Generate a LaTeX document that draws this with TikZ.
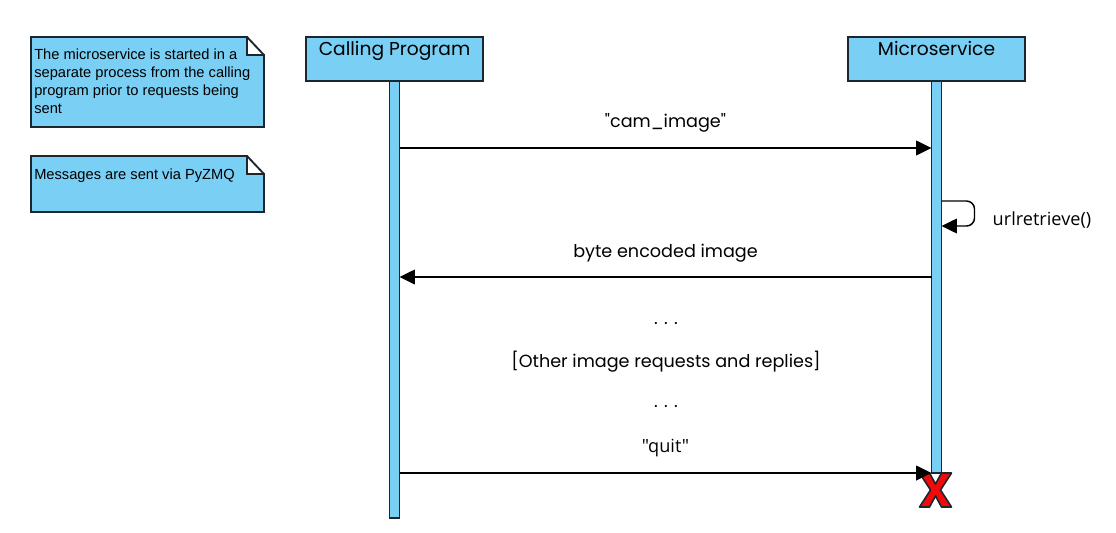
\documentclass[tikz,border=0pt]{standalone}
\usepackage{fontspec}
\setmainfont{Poppins}[Ligatures=TeXOff]
\newfontfamily\notefont{Liberation Sans}
\newfontfamily\callfont{Open Sans}
\usetikzlibrary{calc,positioning,arrows.meta,backgrounds}
\definecolor{lifeblue}{RGB}{122,207,245}
\definecolor{edgedark}{RGB}{28,38,46}
\definecolor{endred}{RGB}{240,10,10}

\begin{document}
\begin{tikzpicture}[
  x=0.75pt, y=-0.75pt,
  head/.style={draw=edgedark, fill=lifeblue, line width=1.4pt, outer sep=0pt, inner sep=0pt,
    minimum width=132.75pt, text height=13.5pt, text depth=19.5pt, font=\fontsize{14}{16}\selectfont},
  bar/.style={draw=edgedark, fill=lifeblue, line width=1pt, outer sep=0pt, inner sep=0pt, minimum width=7.5pt},
  notebox/.style={minimum width=174.75pt, inner sep=0pt, outer sep=0pt},
  notefold/.style={draw=edgedark, fill=lifeblue, line width=1.4pt},
  notetxt/.style={anchor=north west, inner sep=0pt, align=left, font=\notefont\fontsize{11}{13.3}\selectfont},
  msg/.style={-{Triangle[length=11.5pt,width=11pt]}, line width=1.1pt},
  lbl/.style={anchor=base, font=\fontsize{13.2}{15}\selectfont},
  calllbl/.style={anchor=base, font=\callfont\fontsize{13.6}{15}\selectfont},
  endmark/.style={draw=edgedark, fill=endred, line width=1.2pt, line join=round}
]
\useasboundingbox (0,0) rectangle (1116,532);

% notes
\node[notebox, minimum height=67.5pt, anchor=north west] (startnote) at (31,37) {};
\node[notebox, minimum height=42pt, anchor=north west] (zmqnote) at (31,156) {};
\begin{scope}[on background layer]
\foreach \n in {startnote, zmqnote}{
  \filldraw[notefold] (\n.north west) -- ([xshift=-12.75pt]\n.north east)
    -- ([xshift=-12.75pt, yshift=-13.5pt]\n.north east) -- ([yshift=-13.5pt]\n.north east)
    -- (\n.south east) -- (\n.south west) -- cycle;
  \draw[notefold, fill=none] ([xshift=-12.75pt]\n.north east) -- ([yshift=-13.5pt]\n.north east);
}
\end{scope}
\node[notetxt] (starttext) at (34,49) {The microservice is started in a\\separate process from the calling\\program prior to requests being\\sent};
\node[notetxt] (zmqtext) at (34,168.5) {Messages are sent via PyZMQ};

% lifelines
\node[head, anchor=north west] (callhead) at (306,37) {Calling Program};
\node[head, anchor=north west] (mshead) at (848,37) {Microservice};
\node[bar, minimum height=327.75pt, below=0pt of callhead] (callbar) {};
\node[bar, minimum height=294pt, below=0pt of mshead] (msbar) {};

\coordinate (camrow) at (0,148);
\coordinate (looptop) at (0,201);
\coordinate (loopbot) at (0,226);
\coordinate (byterow) at (0,277);
\coordinate (quitrow) at (0,473);

% end of microservice
\draw[endmark, shift={($(msbar.south)+(-1,17)$)}]
  (-16,-17) -- (-6,-17) -- (0,-6) -- (6,-17) -- (16,-17) -- (5,0) -- (16,17) -- (6,17)
  -- (0,6) -- (-6,17) -- (-16,17) -- (-5,0) -- cycle;

% messages
\draw[msg] (callbar.east |- camrow) -- node[lbl, yshift=15.75pt] (camlbl) {"cam\_image"} (msbar.west |- camrow);
\draw[msg, rounded corners=6pt] (msbar.east |- looptop) -- ++(33,0) -- ++(0,25) -- (msbar.east |- loopbot);
\node[calllbl, anchor=base west] (urllbl) at (988,225) {urlretrieve()};
\draw[msg] (msbar.west |- byterow) -- node[lbl, yshift=15pt] (bytelbl) {byte encoded image} (callbar.east |- byterow);
\node[lbl] (dotsa) at (666,324) {. . .};
\node[lbl] (otherlbl) at (666,367) {[Other image requests and replies]};
\node[lbl] (dotsb) at (666,407) {. . .};
\draw[msg] (callbar.east |- quitrow) -- node[calllbl, yshift=15.5pt] (quitlbl) {"quit"} (msbar.west |- quitrow);
\end{tikzpicture}
\end{document}
